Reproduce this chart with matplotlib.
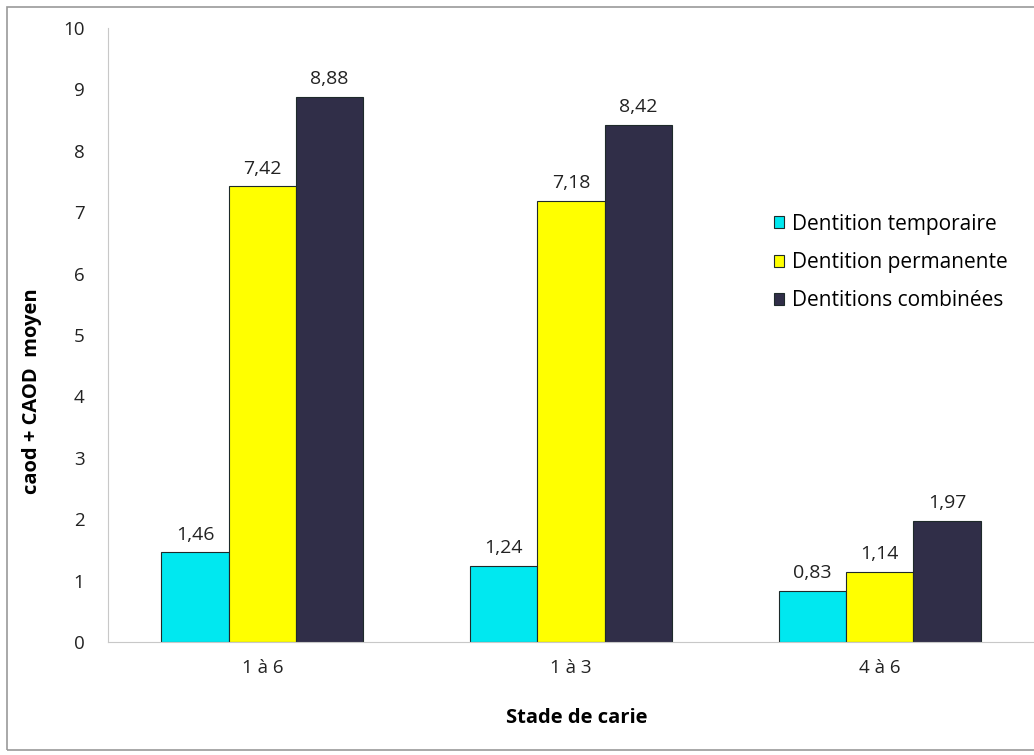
import numpy as np
import matplotlib.pyplot as plt
from matplotlib.patches import Rectangle

plt.rcParams['font.family'] = ['Open Sans', 'DejaVu Sans']

stades = ["1 à 6", "1 à 3", "4 à 6"]
temporaire = [1.46, 1.24, 0.83]
permanente = [7.42, 7.18, 1.14]
combinees = [8.88, 8.42, 1.97]
series_names = ["Dentition temporaire", "Dentition permanente", "Dentitions combinées"]
colors = ["#00E8F0", "#FFFF00", "#302E48"]

fig = plt.figure(figsize=(10.34, 7.55), dpi=100)
ax = fig.add_axes([0.1045, 0.1497, 0.8955, 0.8133])

x = np.arange(len(stades))
w = 0.218
for i, (vals, name, col) in enumerate(zip([temporaire, permanente, combinees], series_names, colors)):
    bars = ax.bar(x + (i - 1) * w, vals, w, color=col, edgecolor="#1e2a2a", linewidth=0.8, label=name)
    for b, v in zip(bars, vals):
        ax.text(b.get_x() + b.get_width() / 2, v + 0.14, f"{v:.2f}".replace(".", ","),
                ha="center", va="bottom", fontsize=14, color="#222222")

ax.set_xlim(-0.5, 2.5)
ax.set_ylim(0, 10)
ax.set_yticks(range(11))
ax.set_xticks(x)
ax.set_xticklabels(stades)
ax.tick_params(axis="both", length=0, labelsize=13.5, colors="#222222")
ax.tick_params(axis="x", pad=12)
ax.tick_params(axis="y", pad=17)
for s in ["top", "right"]:
    ax.spines[s].set_visible(False)
ax.spines["left"].set_color("#c8c8c8")
ax.spines["bottom"].set_color("#c8c8c8")

ax.set_ylabel("caod + CAOD  moyen", fontsize=14.5, fontweight="bold", va="center")
ax.yaxis.set_label_coords(-0.082, 0.409)
ax.set_xlabel("Stade de carie", fontsize=14.5, fontweight="bold", va="center")
ax.xaxis.set_label_coords(0.5065, -0.124)

ax.legend(loc="upper left", bbox_to_anchor=(0.699, 0.728), frameon=False, fontsize=15,
          handlelength=0.5, handleheight=0.5, handletextpad=0.35, labelspacing=0.83)

fig.patches.append(Rectangle((0.007, 0.006), 1.1, 0.985, transform=fig.transFigure,
                             fill=False, edgecolor="#999999", linewidth=1.2))

fig.savefig("out.png", dpi=100)
